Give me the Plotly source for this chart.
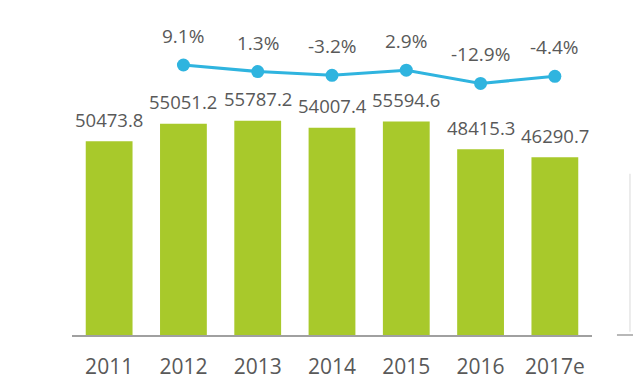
import plotly.graph_objects as go

years = ["2011", "2012", "2013", "2014", "2015", "2016", "2017e"]
values = [50473.8, 55051.2, 55787.2, 54007.4, 55594.6, 48415.3, 46290.7]
growth_years = ["2012", "2013", "2014", "2015", "2016", "2017e"]
growth = [9.1, 1.3, -3.2, 2.9, -12.9, -4.4]
growth_labels = ["9.1%", "1.3%", "-3.2%", "2.9%", "-12.9%", "-4.4%"]
value_labels = ["50473.8", "55051.2", "55787.2", "54007.4", "55594.6", "48415.3", "46290.7"]

FONT = "Open Sans"
TXT = "#595959"
BAR = "#A8C92B"
LINE = "#2FB4DF"

fig = go.Figure()
fig.add_trace(go.Bar(x=years, y=values, marker_color=BAR, marker_line_width=0,
                     hoverinfo="skip"))
fig.add_trace(go.Scatter(x=growth_years, y=growth, yaxis="y2", mode="lines+markers",
                         line=dict(color=LINE, width=3),
                         marker=dict(color=LINE, size=13), hoverinfo="skip"))

annotations = []
for x, v, t in zip(years, values, value_labels):
    annotations.append(dict(x=years.index(x), y=v, xref="x", yref="y", text=t,
                            showarrow=False, yanchor="middle", yshift=22,
                            font=dict(family=FONT, size=18.5, color=TXT)))
for x, v, t in zip(growth_years, growth, growth_labels):
    annotations.append(dict(x=years.index(x), y=v, xref="x", yref="y2", text=t,
                            showarrow=False, yanchor="middle", yshift=29,
                            font=dict(family=FONT, size=19, color=TXT)))

fig.update_layout(
    width=633, height=381,
    margin=dict(l=72, r=41, t=6, b=46, autoexpand=False),
    paper_bgcolor="white", plot_bgcolor="white",
    showlegend=False,
    bargap=0.37,
    hovermode=False,
    annotations=annotations,
    xaxis=dict(type="category", range=[-0.5, 6.5], showgrid=False, zeroline=False,
               automargin=False,
               showline=True, linecolor="#A0A0A0", linewidth=1.5,
               ticks="outside", ticklen=12, tickcolor="rgba(0,0,0,0)",
               tickfont=dict(family=FONT, size=21, color=TXT)),
    yaxis=dict(range=[0, 85700], showgrid=False, zeroline=False, showticklabels=False,
               showline=False, automargin=False),
    yaxis2=dict(range=[-312.3, 79.3], overlaying="y", showgrid=False, zeroline=False,
                showticklabels=False, showline=False, automargin=False),
    shapes=[
        dict(type="line", xref="paper", yref="paper", x0=1.048, x1=1.2, y0=0, y1=0,
             line=dict(color="#A0A0A0", width=1.5)),
        dict(type="line", xref="paper", yref="paper", x0=1.073, x1=1.073, y0=0.01, y1=0.49,
             line=dict(color="#E6E6E6", width=1.5)),
    ],
)

fig.write_html("out.html", config={"displayModeBar": False, "staticPlot": True},
               post_script="document.body.style.margin='0';")
